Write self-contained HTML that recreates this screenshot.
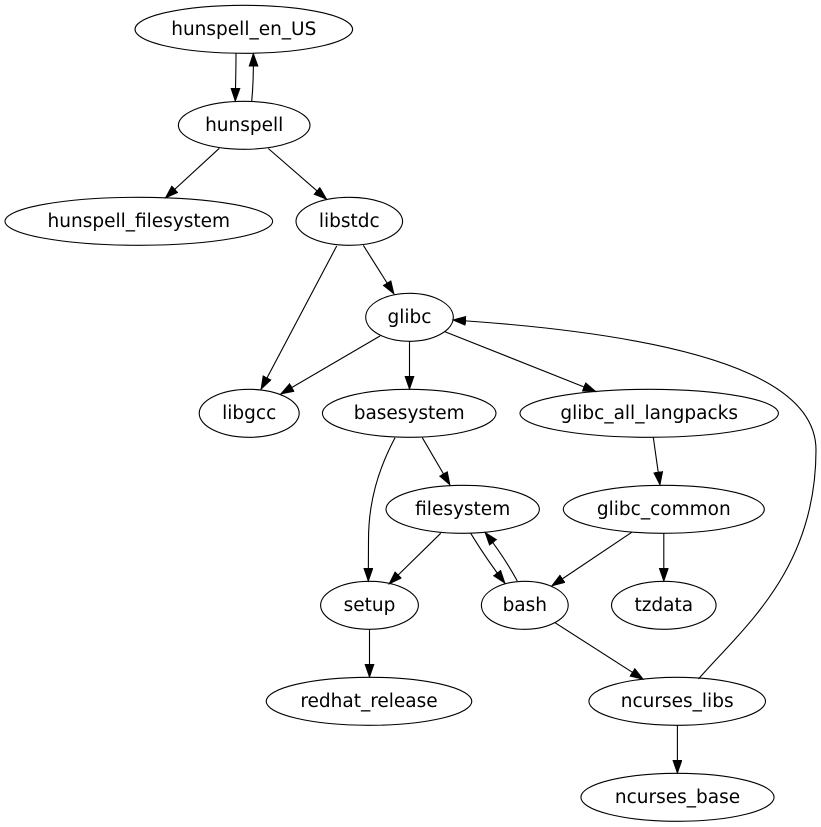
<!DOCTYPE html>
<html>
<head>
<meta charset="utf-8">
<style>
html,body{margin:0;padding:0;background:#fff;}
svg{display:block;}
text{font-family:"DejaVu Sans","Liberation Sans",sans-serif;font-size:18.5px;fill:#000;text-anchor:middle;}
ellipse{fill:none;stroke:#000;stroke-width:1.1;}
.e{fill:none;stroke:#000;stroke-width:1.1;marker-end:url(#a);}
</style>
</head>
<body>
<svg width="821" height="827" viewBox="0 0 821 827" xmlns="http://www.w3.org/2000/svg">
<defs>
<marker id="a" markerWidth="15" markerHeight="11" refX="13.3" refY="4.8" orient="auto" markerUnits="userSpaceOnUse">
<path d="M0.3,0.3 L13.3,4.8 L0.3,9.3 Z" fill="#000" stroke="#000" stroke-width="0.8"/>
</marker>
</defs>

<!-- edges -->
<path class="e" d="M236,53.3 C236,70 235.5,86 235.3,101.3"/>
<path class="e" d="M251.7,101.3 C253,88 253.6,70 253.3,53.3"/>
<path class="e" d="M219.3,148.3 L165.3,198"/>
<path class="e" d="M268.3,148.5 L326.7,199.3"/>
<path class="e" d="M336.7,246 L261,389.3"/>
<path class="e" d="M363.3,245.3 L394,294"/>
<path class="e" d="M380,336 L280.7,394"/>
<path class="e" d="M409.5,341.3 L409.5,389.3"/>
<path class="e" d="M445,331.7 L596,391.7"/>
<path class="e" d="M422.3,437.7 L450,485"/>
<path class="e" d="M395,437.7 C378,470 368.5,502 368.5,540 L368.3,581.3"/>
<path class="e" d="M653.3,437.3 L660,485"/>
<path class="e" d="M440.7,533.3 L389,584"/>
<path class="e" d="M470.7,533.3 Q487,560 505,583.3"/>
<path class="e" d="M517.3,581 Q503,555 485,532.3"/>
<path class="e" d="M631.7,532.3 L551.7,586"/>
<path class="e" d="M663.8,533.3 L663.8,581.3"/>
<path class="e" d="M555,622.7 L643.3,679.3"/>
<path class="e" d="M369.5,629.3 L369.5,677.3"/>
<path class="e" d="M677.4,725.3 L677.4,773.3"/>
<path class="e" d="M698.5,679 C743,628 816,570 816,450 C816,400 760,340 452.7,320"/>

<!-- nodes -->
<ellipse cx="243.8" cy="29.3" rx="108.8" ry="24"/>
<text x="243.8" y="34.9">hunspell_en_US</text>

<ellipse cx="244.2" cy="125.3" rx="65.8" ry="24"/>
<text x="244.2" y="130.9">hunspell</text>

<ellipse cx="138.8" cy="221.3" rx="133.8" ry="24"/>
<text x="138.8" y="226.9">hunspell_filesystem</text>

<ellipse cx="349.3" cy="221.3" rx="53.3" ry="24"/>
<text x="349.3" y="226.9">libstdc</text>

<ellipse cx="409.5" cy="317.3" rx="43.8" ry="24"/>
<text x="409.5" y="322.9">glibc</text>

<ellipse cx="249.2" cy="413.3" rx="50" ry="24"/>
<text x="249.2" y="418.9">libgcc</text>

<ellipse cx="409.2" cy="413.3" rx="86.8" ry="24"/>
<text x="409.2" y="418.9">basesystem</text>

<ellipse cx="649.2" cy="413.3" rx="129.2" ry="24"/>
<text x="649.2" y="418.9">glibc_all_langpacks</text>

<ellipse cx="462.7" cy="509.3" rx="76.7" ry="24"/>
<text x="462.7" y="514.9">filesystem</text>

<ellipse cx="663.8" cy="509.3" rx="100.5" ry="24"/>
<text x="663.8" y="514.9">glibc_common</text>

<ellipse cx="369.5" cy="605.3" rx="48.9" ry="24"/>
<text x="369.5" y="610.9">setup</text>

<ellipse cx="524.8" cy="605.3" rx="43.4" ry="24"/>
<text x="524.8" y="610.9">bash</text>

<ellipse cx="663.8" cy="605.3" rx="52.3" ry="24"/>
<text x="663.8" y="610.9">tzdata</text>

<ellipse cx="369" cy="701.3" rx="102.8" ry="24"/>
<text x="369" y="706.9">redhat_release</text>

<ellipse cx="677.2" cy="701.3" rx="88.3" ry="24"/>
<text x="677.2" y="706.9">ncurses_libs</text>

<ellipse cx="677.5" cy="797.3" rx="96.6" ry="24"/>
<text x="677.5" y="802.9">ncurses_base</text>
</svg>
</body>
</html>
